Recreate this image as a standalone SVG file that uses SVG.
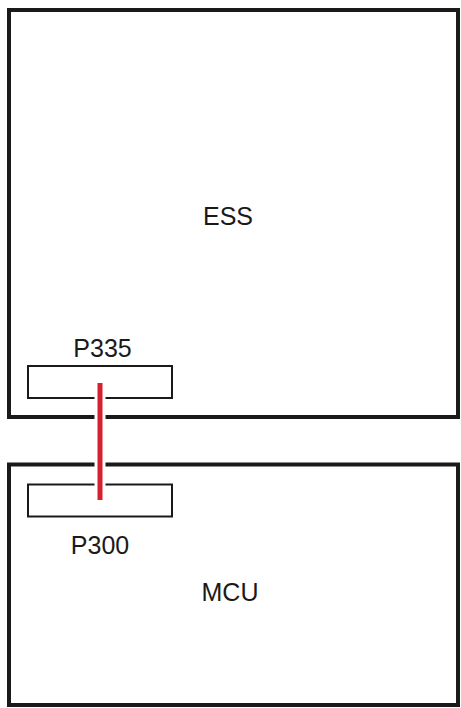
<svg xmlns="http://www.w3.org/2000/svg" width="461" height="708" viewBox="0 0 461 708">
<style>
.box{fill:none;stroke:#1a1a1a;stroke-width:4}
.conn{fill:#fff;stroke:#1a1a1a;stroke-width:2}
.lbl{font-family:"Liberation Sans",Arial,sans-serif;font-size:25px;fill:#1a1a1a;text-anchor:middle}
</style>
<rect width="461" height="708" fill="#fff"/>
<g id="ESS">
<rect class="box" x="9" y="10" width="449" height="407"/>
<text class="lbl" x="228" y="225">ESS</text>
</g>
<g id="MCU">
<rect class="box" x="9" y="464.5" width="449" height="240.5"/>
<text class="lbl" x="230" y="601">MCU</text>
</g>
<g id="P335">
<rect class="conn" x="28" y="366" width="144" height="32"/>
<text class="lbl" x="102.5" y="356.5">P335</text>
</g>
<g id="P300">
<rect class="conn" x="28" y="484.5" width="144" height="32"/>
<text class="lbl" x="100" y="554">P300</text>
</g>
<g id="connectors">
<line x1="100" y1="383" x2="100" y2="500" stroke="#fff" stroke-width="11"/>
<line x1="100" y1="383" x2="100" y2="500" stroke="#d7202e" stroke-width="5"/>
</g>
</svg>
